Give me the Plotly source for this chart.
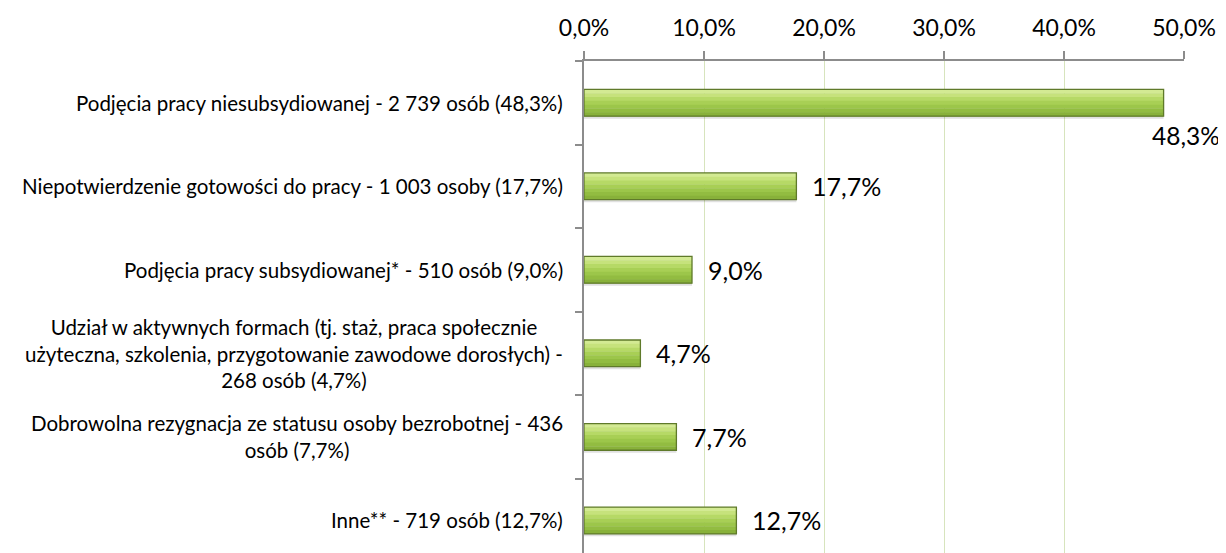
import plotly.graph_objects as go

categories = [
    "Podjęcia pracy niesubsydiowanej - 2 739 osób (48,3%)",
    "Niepotwierdzenie gotowości do pracy - 1 003 osoby (17,7%)",
    "Podjęcia pracy subsydiowanej* - 510 osób (9,0%)",
    "Udział w aktywnych formach (tj. staż, praca społecznie<br>użyteczna, szkolenia, przygotowanie zawodowe dorosłych) -<br>268 osób (4,7%)",
    "Dobrowolna rezygnacja ze statusu osoby bezrobotnej - 436<br>osób (7,7%)",
    "Inne** - 719 osób (12,7%)",
]
values = [48.3, 17.7, 9.0, 4.7, 7.7, 12.7]
value_labels = ["48,3%", "17,7%", "9,0%", "4,7%", "7,7%", "12,7%"]
x_ticks = [0, 10, 20, 30, 40, 50]
x_ticktext = ["0,0%", "10,0%", "20,0%", "30,0%", "40,0%", "50,0%"]

FONT = "Lato, Carlito, Calibri, sans-serif"

# page body has an 8px margin in the browser: compensate
PAGE_OFF = 8

fig = go.Figure()

# soft shadow under bars
fig.add_trace(go.Bar(
    y=categories, x=values, orientation="h",
    width=0.34, offset=-0.15,
    marker=dict(color="rgba(0,0,0,0.12)", line=dict(width=0)),
    hoverinfo="skip", showlegend=False,
))

# vertical gradient bands (top light -> bottom darker)
BAR_W = 0.32
band_colors = ["#d3ea93", "#c6e27c", "#b6d966", "#a8cf55", "#9cc64a", "#92bc41", "#88b13a"]
n = len(band_colors)
bw = BAR_W / n
for k, col in enumerate(band_colors):
    fig.add_trace(go.Bar(
        y=categories, x=values, orientation="h",
        width=bw + 0.004, offset=-BAR_W / 2 + k * bw,
        marker=dict(color=col, line=dict(width=0)),
        hoverinfo="skip", showlegend=False,
    ))

# outline
fig.add_trace(go.Bar(
    y=categories, x=values, orientation="h",
    width=BAR_W, offset=-BAR_W / 2,
    marker=dict(color="rgba(0,0,0,0)", line=dict(color="#5f7a2a", width=1.3)),
    hoverinfo="skip", showlegend=False,
))

annotations = []
for i, (c, v, t) in enumerate(zip(categories, values, value_labels)):
    if i == 0:
        annotations.append(dict(x=v, y=c, xref="x", yref="y", text=t,
                                showarrow=False, xanchor="left", yanchor="middle",
                                xshift=-14, yshift=-33,
                                font=dict(family=FONT, size=24.5, color="#000000")))
    else:
        annotations.append(dict(x=v, y=c, xref="x", yref="y", text=t,
                                showarrow=False, xanchor="left", yanchor="middle",
                                xshift=14,
                                font=dict(family=FONT, size=25, color="#000000")))
    annotations.append(dict(x=0, y=c, xref="paper", yref="y", text=c,
                            showarrow=False, xanchor="right", yanchor="middle",
                            align="center", xshift=-19,
                            font=dict(family=FONT, size=20.5, color="#000000")))

fig.update_layout(
    width=1226 - PAGE_OFF, height=553 - PAGE_OFF,
    margin=dict(l=584 - PAGE_OFF, r=42, t=61 - PAGE_OFF, b=0),
    paper_bgcolor="white", plot_bgcolor="white",
    barmode="overlay",
    font=dict(family=FONT, color="#000000"),
    annotations=annotations,
    xaxis=dict(
        side="top", range=[0, 50], tickvals=x_ticks, ticktext=x_ticktext,
        showgrid=True, gridcolor="#d7e4bd", gridwidth=1,
        showline=True, linecolor="#8c8c8c", linewidth=2,
        ticks="outside", ticklen=8, tickcolor="#8c8c8c", tickwidth=2,
        tickfont=dict(family=FONT, size=23, color="#000000"),
        ticklabelstandoff=6,
        zeroline=False, fixedrange=True, automargin=False,
    ),
    yaxis=dict(
        type="category", categoryorder="array", categoryarray=categories,
        range=[5.39, -0.5],
        showticklabels=False, showgrid=False,
        showline=True, linecolor="#8c8c8c", linewidth=2,
        ticks="outside", tickson="boundaries", ticklen=7,
        tickcolor="#8c8c8c", tickwidth=2,
        zeroline=False, fixedrange=True, automargin=False,
    ),
)

fig.write_html("out.html")
